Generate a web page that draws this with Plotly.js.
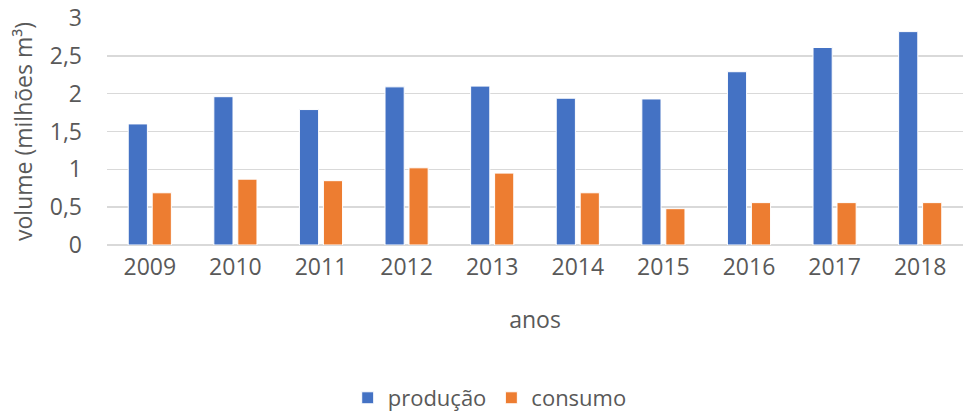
<!DOCTYPE html>
<html>
<head>
<meta charset="utf-8">
<script src="https://cdn.plot.ly/plotly-3.0.1.min.js"></script>
<style>
  html, body { margin: 0; padding: 0; background: #fff; }
  #chart { width: 964px; height: 412px; }
</style>
</head>
<body>
<div id="chart"></div>
<script>
// Produção e consumo anual (milhões m³)
var anos = ['2009', '2010', '2011', '2012', '2013', '2014', '2015', '2016', '2017', '2018'];
var producao = [1.60, 1.96, 1.79, 2.09, 2.10, 1.94, 1.93, 2.29, 2.61, 2.82];
var consumo = [0.69, 0.87, 0.85, 1.02, 0.95, 0.69, 0.48, 0.56, 0.56, 0.56];

var fonte = '"Open Sans", Lato, sans-serif';
var cinza = '#595959';

var data = [
    {
        x: anos,
        y: producao,
        name: 'produção',
        type: 'bar',
        marker: {color: '#4472C4', line: {color: '#ffffff', width: 1}}
    },
    {
        x: anos,
        y: consumo,
        name: 'consumo',
        type: 'bar',
        marker: {color: '#ED7D31', line: {color: '#ffffff', width: 1}}
    }
];

var layout = {
    width: 964,
    height: 412,
    margin: {l: 107, r: 1, t: 18, b: 167},
    paper_bgcolor: '#ffffff',
    plot_bgcolor: '#ffffff',
    separators: ',.',
    font: {family: fonte, color: cinza, size: 20},
    barmode: 'group',
    bargap: 0.44,
    bargroupgap: 0.2,
    showlegend: true,
    legend: {
        orientation: 'h',
        xref: 'container',
        yref: 'container',
        x: 0.508,
        xanchor: 'center',
        y: 0.034,
        yanchor: 'middle',
        font: {size: 22, color: cinza},
        itemwidth: 30,
        traceorder: 'normal'
    },
    xaxis: {
        type: 'category',
        title: {text: 'anos', font: {size: 23, color: cinza}, standoff: 30},
        showline: false,
        ticks: '',
        ticklabelstandoff: 6,
        tickfont: {size: 23, color: cinza},
        automargin: false
    },
    yaxis: {
        title: {text: 'volume (milhões m³)', font: {size: 23, color: cinza}, standoff: 10},
        range: [0, 3],
        dtick: 0.5,
        tick0: 0,
        showgrid: true,
        gridcolor: '#d9d9d9',
        gridwidth: 1.5,
        zeroline: true,
        zerolinecolor: '#d9d9d9',
        zerolinewidth: 1.5,
        showline: false,
        ticks: '',
        ticklabelstandoff: 24,
        tickfont: {size: 23, color: cinza},
        automargin: false
    }
};

Plotly.newPlot('chart', data, layout, {displayModeBar: false, staticPlot: true});
</script>
</body>
</html>
